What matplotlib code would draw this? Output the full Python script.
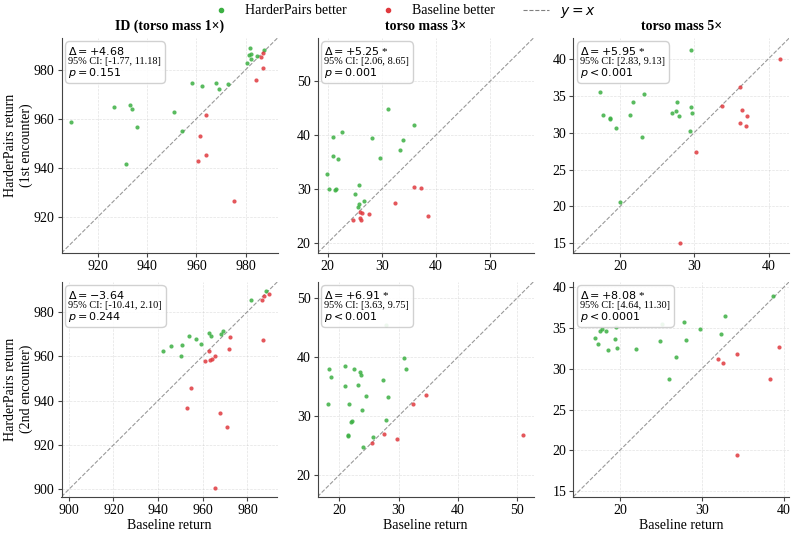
import matplotlib
matplotlib.use("Agg")
import matplotlib.pyplot as plt
from matplotlib.lines import Line2D
from matplotlib.offsetbox import AnchoredOffsetbox, VPacker, TextArea
import numpy as np

plt.rcParams['font.family'] = ['Liberation Serif', 'DejaVu Sans']
plt.rcParams['mathtext.fontset'] = 'dejavusans'

# ---------------- data ----------------
titles = ["ID (torso mass 1\u00d7)", "torso mass 3\u00d7", "torso mass 5\u00d7"]
row_labels = ["HarderPairs return\n(1st encounter)", "HarderPairs return\n(2nd encounter)"]

# top-left: ID, 1st encounter
id1_base = [909.3, 926.7, 932.9, 933.9, 936.0, 931.5, 950.9, 954.1, 958.2, 962.2, 967.9, 969.0,
            972.8, 980.6, 981.4, 981.8, 982.2, 982.2, 984.4, 987.5,
            963.7, 961.3, 963.7, 960.5, 975.4, 984.1, 986.3, 987.2, 987.2]
id1_hp = [958.6, 964.7, 965.7, 963.9, 956.8, 941.4, 962.7, 955.0, 974.6, 973.2, 974.7, 972.2,
          974.3, 982.8, 986.1, 988.9, 986.5, 984.4, 985.5, 987.9,
          961.7, 953.1, 945.2, 942.9, 926.3, 975.8, 985.3, 986.6, 980.7]

# top-middle: torso 3x, 1st encounter
m3a_base = [19.8, 20.2, 21.0, 21.0, 21.8, 22.6, 21.4, 21.6, 25.1, 25.8, 25.7, 25.6, 26.7, 28.2,
            29.6, 31.2, 33.4, 33.9, 35.9,
            24.7, 25.9, 26.4, 25.9, 26.2, 27.7, 32.5, 35.9, 37.2, 38.5]
m3a_hp = [32.7, 30.0, 39.7, 36.1, 35.6, 40.5, 29.8, 30.0, 29.1, 30.8, 27.2, 26.6, 27.7, 39.4,
          35.8, 44.9, 37.2, 39.0, 41.9,
          24.2, 25.8, 25.5, 24.6, 24.3, 25.4, 27.4, 30.3, 30.1, 25.0]

# top-right: torso 5x, 1st encounter
m5a_base = [17.3, 17.7, 18.6, 18.6, 19.5, 21.4, 21.8, 23.0, 23.2, 20.0, 27.0, 27.6, 27.7, 27.9,
            29.4, 29.6, 29.7, 29.6,
            28.1, 30.2, 33.7, 36.2, 36.1, 36.4, 37.1, 37.0, 41.5]
m5a_hp = [35.5, 32.4, 32.0, 31.9, 30.6, 32.4, 34.1, 29.4, 35.2, 20.6, 32.6, 32.9, 34.2, 32.2,
          30.2, 33.5, 32.6, 41.2,
          15.0, 27.4, 33.6, 36.2, 31.3, 33.0, 32.2, 30.9, 39.9]

# bottom-left: ID, 2nd encounter
id2_base = [942.0, 945.9, 950.1, 950.9, 953.9, 956.9, 959.3, 962.6, 963.5, 968.1, 969.2, 981.5, 988.4,
            962.6, 960.8, 963.2, 964.3, 965.3, 972.2, 971.7, 954.9, 953.0, 967.7, 970.8, 965.3,
            987.1, 986.6, 987.5, 989.5]
id2_hp = [962.5, 964.4, 960.2, 965.0, 969.2, 967.6, 965.3, 970.3, 969.0, 969.9, 971.2, 985.3, 989.4,
          962.2, 957.7, 958.3, 958.9, 960.1, 968.6, 963.1, 945.5, 936.8, 934.3, 928.0, 900.8,
          967.3, 985.4, 987.2, 988.0]

# bottom-middle: torso 3x, 2nd encounter
m3b_base = [18.0, 18.2, 18.5, 20.9, 21.0, 21.5, 21.4, 21.7, 22.0, 22.2, 22.5, 23.2, 23.5, 23.6,
            23.8, 24.0, 24.5, 25.5, 25.7, 27.4, 27.8, 27.9, 28.2, 30.9, 31.2,
            27.6, 29.8, 32.5, 34.7, 51.1]
m3b_hp = [32.0, 38.0, 36.6, 35.1, 38.5, 26.8, 26.6, 32.0, 28.9, 29.2, 37.9, 35.3, 37.5, 37.0,
          31.1, 24.8, 33.4, 25.5, 26.5, 36.1, 45.5, 29.4, 33.3, 39.8, 37.9,
          26.9, 26.1, 32.0, 33.6, 26.7]

# bottom-right: torso 5x, 2nd encounter
m5b_base = [17.0, 17.3, 17.6, 17.8, 18.3, 18.6, 19.4, 19.5, 19.6, 22.0, 24.9, 25.2, 26.0, 26.8,
            27.8, 28.1, 29.8, 32.4, 32.8, 38.7,
            32.0, 32.6, 34.3, 34.3, 38.4, 39.5]
m5b_hp = [33.8, 33.1, 34.7, 34.9, 34.7, 32.3, 33.7, 35.1, 32.5, 32.4, 33.4, 35.5, 28.8, 31.4,
          35.7, 33.5, 34.9, 34.3, 36.5, 38.9,
          31.2, 30.7, 31.8, 19.4, 28.7, 32.7]

deltas = ["+4.68", "+5.25", "+5.95", "-3.64", "+6.91", "+8.08"]
sig = [False, True, True, False, True, True]
cis = ["[-1.77, 11.18]", "[2.06, 8.65]", "[2.83, 9.13]", "[-10.41, 2.10]", "[3.63, 9.75]", "[4.64, 11.30]"]
pvals = ["= 0.151", "= 0.001", "< 0.001", "= 0.244", "< 0.001", "< 0.0001"]

panels = [(id1_base, id1_hp), (m3a_base, m3a_hp), (m5a_base, m5a_hp),
          (id2_base, id2_hp), (m3b_base, m3b_hp), (m5b_base, m5b_hp)]
lims = [(905.3, 992.9), (18.1, 58.0), (13.7, 42.8),
        (896.7, 993.5), (16.3, 52.8), (14.3, 40.7)]
yticks = [[920, 940, 960, 980], [20, 30, 40, 50], [15, 20, 25, 30, 35, 40],
          [900, 920, 940, 960, 980], [20, 30, 40, 50], [15, 20, 25, 30, 35, 40]]
xticks = [[920, 940, 960, 980], [20, 30, 40, 50], [20, 30, 40],
          [900, 920, 940, 960, 980], [20, 30, 40, 50], [20, 30, 40]]

GREEN = '#3cb043'
RED = '#e0393e'

W, H = 796, 533
fig = plt.figure(figsize=(W / 100, H / 100), dpi=100)
lefts = [61.5, 317.5, 573.3]
bottoms = [253.0, 496.7]
aw, ah = 216.0, 215.0

axes = []
for r in range(2):
    for c in range(3):
        ax = fig.add_axes([lefts[c] / W, 1 - bottoms[r] / H, aw / W, ah / H])
        axes.append(ax)

for i, ax in enumerate(axes):
    b, h = np.array(panels[i][0]), np.array(panels[i][1])
    better = h > b
    lo, hi = lims[i]
    ax.plot([lo, hi], [lo, hi], ls='--', color='gray', lw=0.8, alpha=0.8, zorder=1)
    ax.scatter(b[better], h[better], s=9, color=GREEN, alpha=0.85, lw=0, zorder=3)
    ax.scatter(b[~better], h[~better], s=9, color=RED, alpha=0.85, lw=0, zorder=3)
    ax.set_xlim(lo, hi)
    ax.set_ylim(lo, hi)
    ax.set_xticks(xticks[i])
    ax.set_yticks(yticks[i])
    ax.grid(True, ls='--', lw=0.5, alpha=0.35)
    ax.set_axisbelow(True)
    for s in ['top', 'right']:
        ax.spines[s].set_visible(False)
    for s in ['left', 'bottom']:
        ax.spines[s].set_color('#444444')
    ax.tick_params(labelsize=10, length=3, width=0.8, color='#444444', pad=2)

    t1 = TextArea(r'$\Delta = %s$' % deltas[i] + (' *' if sig[i] else ''),
                  textprops=dict(fontsize=8))
    t2 = TextArea('95% CI: ' + cis[i], textprops=dict(fontsize=7.4))
    t3 = TextArea(r'$p %s$' % pvals[i], textprops=dict(fontsize=8))
    pack = VPacker(children=[t1, t2, t3], align='left', pad=0, sep=0)
    box = AnchoredOffsetbox(loc='upper left', child=pack, pad=0.25, borderpad=0.25,
                            frameon=True, bbox_to_anchor=(0, 1), bbox_transform=ax.transAxes)
    box.patch.set_boxstyle('round,pad=0,rounding_size=0.3')
    box.patch.set_edgecolor('#cccccc')
    box.patch.set_facecolor('white')
    box.patch.set_alpha(0.9)
    box.zorder = 5
    ax.add_artist(box)

for c in range(3):
    axes[c].set_title(titles[c], fontsize=10, fontweight='bold', pad=6)
    axes[3 + c].set_xlabel('Baseline return', fontsize=10, labelpad=2)
axes[0].set_ylabel(row_labels[0], fontsize=10, labelpad=0.5)
axes[3].set_ylabel(row_labels[1], fontsize=10, labelpad=0.5)

handles = [Line2D([], [], marker='o', ls='', color=GREEN, markersize=3),
           Line2D([], [], marker='o', ls='', color=RED, markersize=3),
           Line2D([], [], ls='--', color='gray', lw=0.8)]
labels = ['HarderPairs better', 'Baseline better', r'$y = x$']
fig.legend(handles, labels, loc='center', bbox_to_anchor=(0.505, 1 - 12 / H), ncol=3,
           frameon=False, fontsize=10, columnspacing=2.0, handlelength=1.9, handletextpad=0.8,
           borderpad=0.1)

fig.savefig('out.png', dpi=100)
